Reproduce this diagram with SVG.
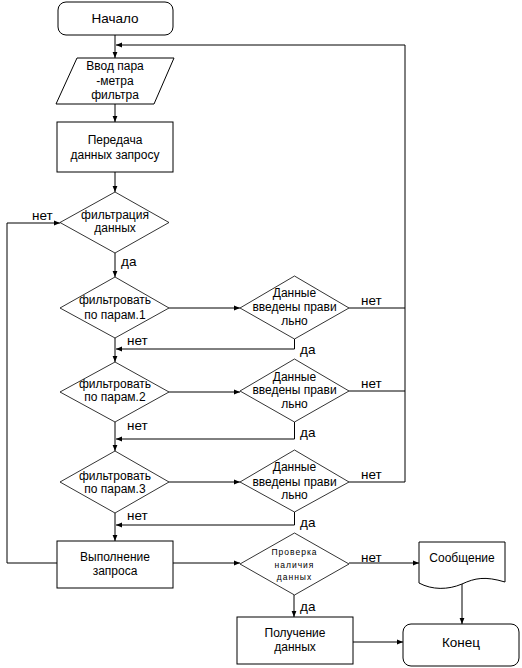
<svg xmlns="http://www.w3.org/2000/svg" width="522" height="668" viewBox="0 0 522 668">
<style>
.s{fill:#fff;stroke:#000;stroke-width:1}
.d{fill:#fff;stroke:#000;stroke-width:0.8}
.c{fill:none;stroke:#000;stroke-width:1}
text{font-family:"Liberation Sans",Arial,sans-serif;font-size:12px;fill:#000;text-anchor:middle}
.l{text-anchor:start;font-size:13.5px}
.t{font-size:13.5px}
.sm{font-size:8.5px;letter-spacing:1px}
</style>
<defs>
<marker id="a" viewBox="0 0 10 10" refX="10" refY="5" markerWidth="6" markerHeight="6" markerUnits="userSpaceOnUse" orient="auto">
<path d="M0,1 L10,5 L0,9 z" fill="#000"/>
</marker>
</defs>
<g id="connectors">
<path class="c" d="M115,35 V58" marker-end="url(#a)"/>
<path class="c" d="M405,482 V45 H116" marker-end="url(#a)"/>
<path class="c" d="M115,104 V122" marker-end="url(#a)"/>
<path class="c" d="M115,172 V192" marker-end="url(#a)"/>
<path class="c" d="M57,563 H7 V223 H60" marker-end="url(#a)"/>
<path class="c" d="M115,253 V277" marker-end="url(#a)"/>
<path class="c" d="M169,308 H240" marker-end="url(#a)"/>
<path class="c" d="M349,308 H405"/>
<path class="c" d="M294.5,339 V349 H116" marker-end="url(#a)"/>
<path class="c" d="M115,338 V362" marker-end="url(#a)"/>
<path class="c" d="M169,392 H240" marker-end="url(#a)"/>
<path class="c" d="M349,391 H405"/>
<path class="c" d="M294.5,422 V439 H116" marker-end="url(#a)"/>
<path class="c" d="M115,422 V451" marker-end="url(#a)"/>
<path class="c" d="M169,482 H240" marker-end="url(#a)"/>
<path class="c" d="M349,482 H405"/>
<path class="c" d="M294.5,512 V525 H116" marker-end="url(#a)"/>
<path class="c" d="M115,513 V541" marker-end="url(#a)"/>
<path class="c" d="M173,563 H240" marker-end="url(#a)"/>
<path class="c" d="M349,563 H419" marker-end="url(#a)"/>
<path class="c" d="M294,595 V617" marker-end="url(#a)"/>
<path class="c" d="M462,583 V624" marker-end="url(#a)"/>
<path class="c" d="M353,642 H403" marker-end="url(#a)"/>
<text class="l" x="32" y="220">нет</text>
<text class="l" x="121" y="266">да</text>
<text class="l" x="361" y="305">нет</text>
<text class="l" x="300" y="354">да</text>
<text class="l" x="127" y="345">нет</text>
<text class="l" x="361" y="388">нет</text>
<text class="l" x="300" y="437">да</text>
<text class="l" x="127" y="430">нет</text>
<text class="l" x="361" y="479">нет</text>
<text class="l" x="300" y="527">да</text>
<text class="l" x="127" y="520">нет</text>
<text class="l" x="361" y="562">нет</text>
<text class="l" x="300" y="611">да</text>
</g>
<g id="start">
<rect class="s" x="58" y="2" width="115" height="33" rx="8"/>
<text class="t" x="115" y="23">Начало</text>
</g>
<g id="input">
<path class="s" d="M77,58 H174 L154,104 H56 z"/>
<text x="115" y="70">Ввод пара</text>
<text x="115" y="85">-метра</text>
<text x="115" y="99">фильтра</text>
</g>
<g id="transfer">
<rect class="s" x="57" y="122" width="116" height="50"/>
<text x="115" y="144">Передача</text>
<text x="115" y="159">данных запросу</text>
</g>
<g id="filter">
<path class="d" d="M115,192 L169,222.5 L115,253 L60,222.5 z"/>
<text x="115" y="219">фильтрация</text>
<text x="115" y="232">данных</text>
</g>
<g id="p1">
<path class="d" d="M115,277 L169,308 L115,338 L60,308 z"/>
<text x="115" y="304">фильтровать</text>
<text x="115" y="319">по парам.1</text>
</g>
<g id="v1">
<path class="d" d="M294.5,276 L349,308 L294.5,339 L240,308 z"/>
<text x="294.5" y="297">Данные</text>
<text x="294.5" y="311">введены прави</text>
<text x="294.5" y="325">льно</text>
</g>
<g id="p2">
<path class="d" d="M115,362 L169,392 L115,422 L60,392 z"/>
<text x="115" y="388">фильтровать</text>
<text x="115" y="401">по парам.2</text>
</g>
<g id="v2">
<path class="d" d="M294.5,359 L349,391 L294.5,422 L240,391 z"/>
<text x="294.5" y="381">Данные</text>
<text x="294.5" y="394">введены прави</text>
<text x="294.5" y="408">льно</text>
</g>
<g id="p3">
<path class="d" d="M115,451 L169,482 L115,513 L60,482 z"/>
<text x="115" y="480">фильтровать</text>
<text x="115" y="493">по парам.3</text>
</g>
<g id="v3">
<path class="d" d="M294.5,450 L349,482 L294.5,512 L240,482 z"/>
<text x="294.5" y="471">Данные</text>
<text x="294.5" y="486">введены прави</text>
<text x="294.5" y="499">льно</text>
</g>
<g id="exec">
<rect class="s" x="57" y="541" width="116" height="47"/>
<text x="115" y="561">Выполнение</text>
<text x="115" y="575">запроса</text>
</g>
<g id="check">
<path class="d" d="M294.5,533 L349,564 L294.5,595 L240,564 z"/>
<text class="sm" x="294.5" y="555">Проверка</text>
<text class="sm" x="294.5" y="568">наличия</text>
<text class="sm" x="294.5" y="580">данных</text>
</g>
<g id="message">
<path class="s" d="M419,542 H505 V582 C485,576 475,578 462,584 C448,590 432,590 419,583 z"/>
<text x="462" y="562">Сообщение</text>
</g>
<g id="get">
<rect class="s" x="237" y="617" width="116" height="47"/>
<text x="295" y="637">Получение</text>
<text x="295" y="651">данных</text>
</g>
<g id="end">
<rect class="s" x="403" y="624" width="116" height="42" rx="8"/>
<text class="t" x="461" y="647">Конец</text>
</g>
</svg>
